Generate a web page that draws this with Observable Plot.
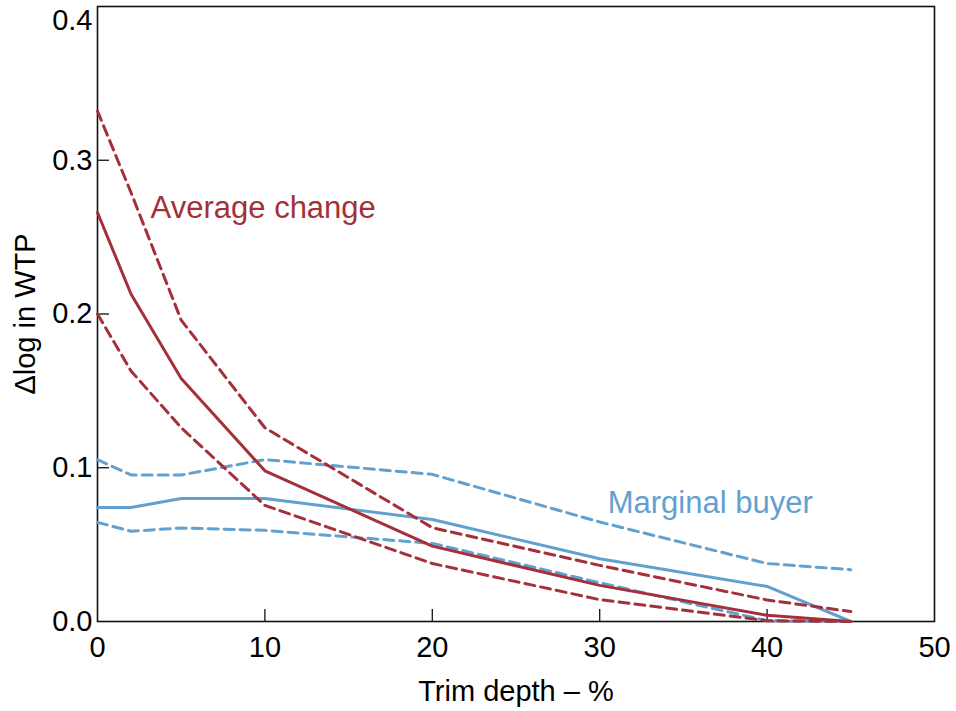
<!DOCTYPE html>
<html>
<head>
<meta charset="utf-8">
<script src="https://cdn.jsdelivr.net/npm/d3@7"></script>
<script src="https://cdn.jsdelivr.net/npm/@observablehq/plot@0.6"></script>
<style>
  html, body { margin: 0; padding: 0; background: #fff; }
  #chart { width: 956px; height: 711px; }
</style>
</head>
<body>
<div id="chart"></div>
<script>
// Trim depth (%) at which estimates are reported
const trim = [0, 2, 5, 10, 20, 30, 40, 45];

// Average change in log WTP: point estimate and band
const avgMid = [0.266, 0.213, 0.158, 0.098, 0.049, 0.0235, 0.004, 0];
const avgHi  = [0.332, 0.279, 0.196, 0.126, 0.061, 0.0365, 0.014, 0.0065];
const avgLo  = [0.200, 0.163, 0.126, 0.0755, 0.0377, 0.0142, 0.0005, 0];

// Marginal buyer: point estimate and band
const mbMid = [0.0741, 0.0741, 0.080, 0.080, 0.0663, 0.0408, 0.0228, 0];
const mbHi  = [0.1053, 0.0953, 0.0953, 0.1053, 0.0957, 0.0647, 0.0377, 0.0337];
const mbLo  = [0.0645, 0.0587, 0.0608, 0.0593, 0.0508, 0.0252, 0.0005, 0];

// Axis ticks
const xTicks = [0, 10, 20, 30, 40, 50];
const yTicks = [0, 0.1, 0.2, 0.3];
const yTopTick = [0.4];
const xInnerTicks = [10, 20, 30, 40];
const yInnerTicks = [0.1, 0.2, 0.3];

const RED = "#a3303a";
const BLUE = "#62a1cf";

const W = 956, H = 711;
const mL = 97, mR = 22, mT = 6, mB = 90;
const innerW = W - mL - mR, innerH = H - mT - mB;

function rows(ys) { return trim.map((t, i) => ({x: t, y: ys[i]})); }

const solid = {strokeWidth: 3};
const dashed = {strokeWidth: 3, strokeDasharray: "10,6"};

const chart = Plot.plot({
  width: W,
  height: H,
  marginLeft: mL,
  marginRight: mR,
  marginTop: mT,
  marginBottom: mB,
  style: {fontFamily: "'Liberation Sans', Arial, sans-serif", fontSize: "29px", color: "#000", background: "#fff"},
  x: {domain: [0, 50]},
  y: {domain: [0, 0.4]},
  marks: [
    Plot.frame({stroke: "#111", strokeWidth: 1.6}),
    Plot.ruleX(xInnerTicks, {x: d => d, insetTop: innerH - 12, stroke: "#111", strokeWidth: 1.3}),
    Plot.ruleY(yInnerTicks, {y: d => d, insetRight: innerW - 12, stroke: "#111", strokeWidth: 1.3}),
    Plot.axisX(xTicks, {tickSize: 0, tickPadding: 15, fontSize: 29, tickFormat: d3.format("d"),
      label: "Trim depth – %", labelAnchor: "center", labelOffset: 79, labelArrow: "none"}),
    Plot.axisY(yTicks, {tickSize: 0, tickPadding: 5, fontSize: 29, tickFormat: d3.format(".1f"),
      label: "Δlog in WTP", labelAnchor: "center", labelOffset: 83, labelArrow: "none"}),
    Plot.axisY(yTopTick, {tickSize: 0, tickPadding: 5, fontSize: 29, tickFormat: d3.format(".1f"), dy: 14, label: null}),
    // Marginal buyer
    Plot.line(rows(mbHi), {x: "x", y: "y", stroke: BLUE, ...dashed}),
    Plot.line(rows(mbLo), {x: "x", y: "y", stroke: BLUE, ...dashed}),
    Plot.line(rows(mbMid), {x: "x", y: "y", stroke: BLUE, ...solid}),
    // Average change
    Plot.line(rows(avgHi), {x: "x", y: "y", stroke: RED, ...dashed}),
    Plot.line(rows(avgLo), {x: "x", y: "y", stroke: RED, ...dashed}),
    Plot.line(rows(avgMid), {x: "x", y: "y", stroke: RED, ...solid}),
    Plot.text(["Average change"], {x: 9.9, y: 0.2688, text: d => d, fill: RED, fontSize: 31, textAnchor: "middle"}),
    Plot.text(["Marginal buyer"], {x: 36.6, y: 0.0773, text: d => d, fill: BLUE, fontSize: 31, textAnchor: "middle"})
  ]
});
document.getElementById("chart").appendChild(chart);
</script>
</body>
</html>
